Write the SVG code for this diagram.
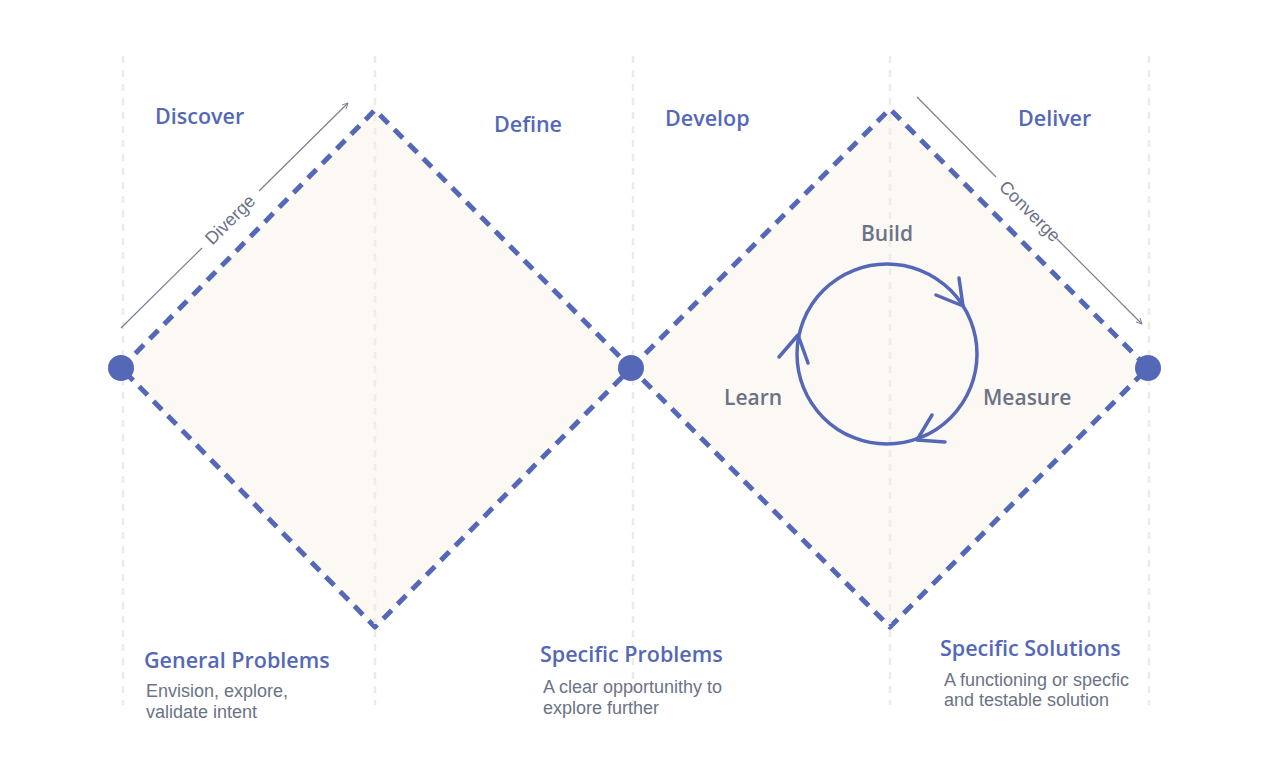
<svg xmlns="http://www.w3.org/2000/svg" width="1281" height="761" viewBox="0 0 1281 761">
<style>
.vl{stroke:#eeeae5;stroke-width:2.5;stroke-dasharray:7 7;fill:none}
.dia{fill:#fcf9f5;stroke:#5468b7;stroke-width:5;stroke-dasharray:12 8.5;stroke-linejoin:round}
.dot{fill:#5468b7}
.h{font-family:"Open Sans",sans-serif;font-weight:600;font-size:21.5px;fill:#5468b7}
.lp{font-family:"Open Sans",sans-serif;font-weight:600;font-size:21px;fill:#6b7287}
.s{font-family:"Liberation Sans",Arial,sans-serif;font-size:18px;fill:#6b7287}
.dl{font-family:"Liberation Sans",Arial,sans-serif;font-size:18px;fill:#6b7287}
.ax{stroke:#7a8196;stroke-width:1.2;fill:none}
.cyc{stroke:#5468b7;stroke-width:3.5;fill:none;stroke-linecap:round;stroke-linejoin:round}
</style>
<defs>
<marker id="ah" viewBox="0 0 10 10" refX="9" refY="5" markerWidth="7" markerHeight="7" orient="auto" markerUnits="userSpaceOnUse">
<path d="M1,1 L9,5 L1,9" fill="none" stroke="#7a8196" stroke-width="1.3"/>
</marker>
</defs>
<rect width="1281" height="761" fill="#ffffff"/>
<g id="gridlines">
<line class="vl" x1="123" y1="56" x2="123" y2="705"/>
<line class="vl" x1="375" y1="56" x2="375" y2="705"/>
<line class="vl" x1="633" y1="56" x2="633" y2="705"/>
<line class="vl" x1="890" y1="56" x2="890" y2="705"/>
<line class="vl" x1="1149" y1="56" x2="1149" y2="705"/>
</g>
<g id="diamond-problem">
<polygon class="dia" points="121,368 375,110 631,368 375,627"/>
</g>
<g id="diamond-solution">
<polygon class="dia" points="631,368 890,109 1148,368 890,627"/>
</g>
<g id="gridlines-over" opacity="0.9">
<line class="vl" x1="375" y1="114" x2="375" y2="624"/>
<line class="vl" x1="890" y1="114" x2="890" y2="624"/>
</g>
<g id="dots">
<circle class="dot" cx="121" cy="368" r="13"/>
<circle class="dot" cx="631" cy="368" r="13"/>
<circle class="dot" cx="1148" cy="368" r="13"/>
</g>
<g id="connectors">
<line class="ax" x1="121" y1="328" x2="202" y2="248"/>
<line class="ax" x1="259" y1="191" x2="348" y2="103" marker-end="url(#ah)"/>
<line class="ax" x1="917" y1="97" x2="996" y2="177"/>
<line class="ax" x1="1057" y1="239" x2="1142" y2="324" marker-end="url(#ah)"/>
</g>
<g id="label-diverge">
<text class="dl" transform="translate(234.4,224) rotate(-44.7)" text-anchor="middle">Diverge</text>
</g>
<g id="label-converge">
<text class="dl" transform="translate(1025.5,215.5) rotate(45)" text-anchor="middle">Converge</text>
</g>
<g id="headings">
<text class="h" x="155" y="124">Discover</text>
<text class="h" x="494" y="132">Define</text>
<text class="h" x="665" y="126">Develop</text>
<text class="h" x="1018" y="126">Deliver</text>
</g>
<g id="cycle">
<circle class="cyc" cx="887" cy="354" r="90"/>
<path class="cyc" d="M936,295 L963,306 L959,278"/>
<path class="cyc" d="M932,415 L917,440 L945,442"/>
<path class="cyc" d="M779,357 L798,335 L808,363"/>
<text class="lp" x="887" y="241" text-anchor="middle">Build</text>
<text class="lp" x="983" y="405">Measure</text>
<text class="lp" x="724" y="405">Learn</text>
</g>
<g id="outcome-general">
<text class="h" x="144" y="668">General Problems</text>
<text class="s" x="146" y="697">Envision, explore,</text>
<text class="s" x="146" y="718">validate intent</text>
</g>
<g id="outcome-specific-problems">
<text class="h" x="540" y="662">Specific Problems</text>
<text class="s" x="543" y="693">A clear opportunithy to</text>
<text class="s" x="543" y="714">explore further</text>
</g>
<g id="outcome-specific-solutions">
<text class="h" x="940" y="656">Specific Solutions</text>
<text class="s" x="944" y="686">A functioning or specfic</text>
<text class="s" x="944" y="706">and testable solution</text>
</g>
</svg>
